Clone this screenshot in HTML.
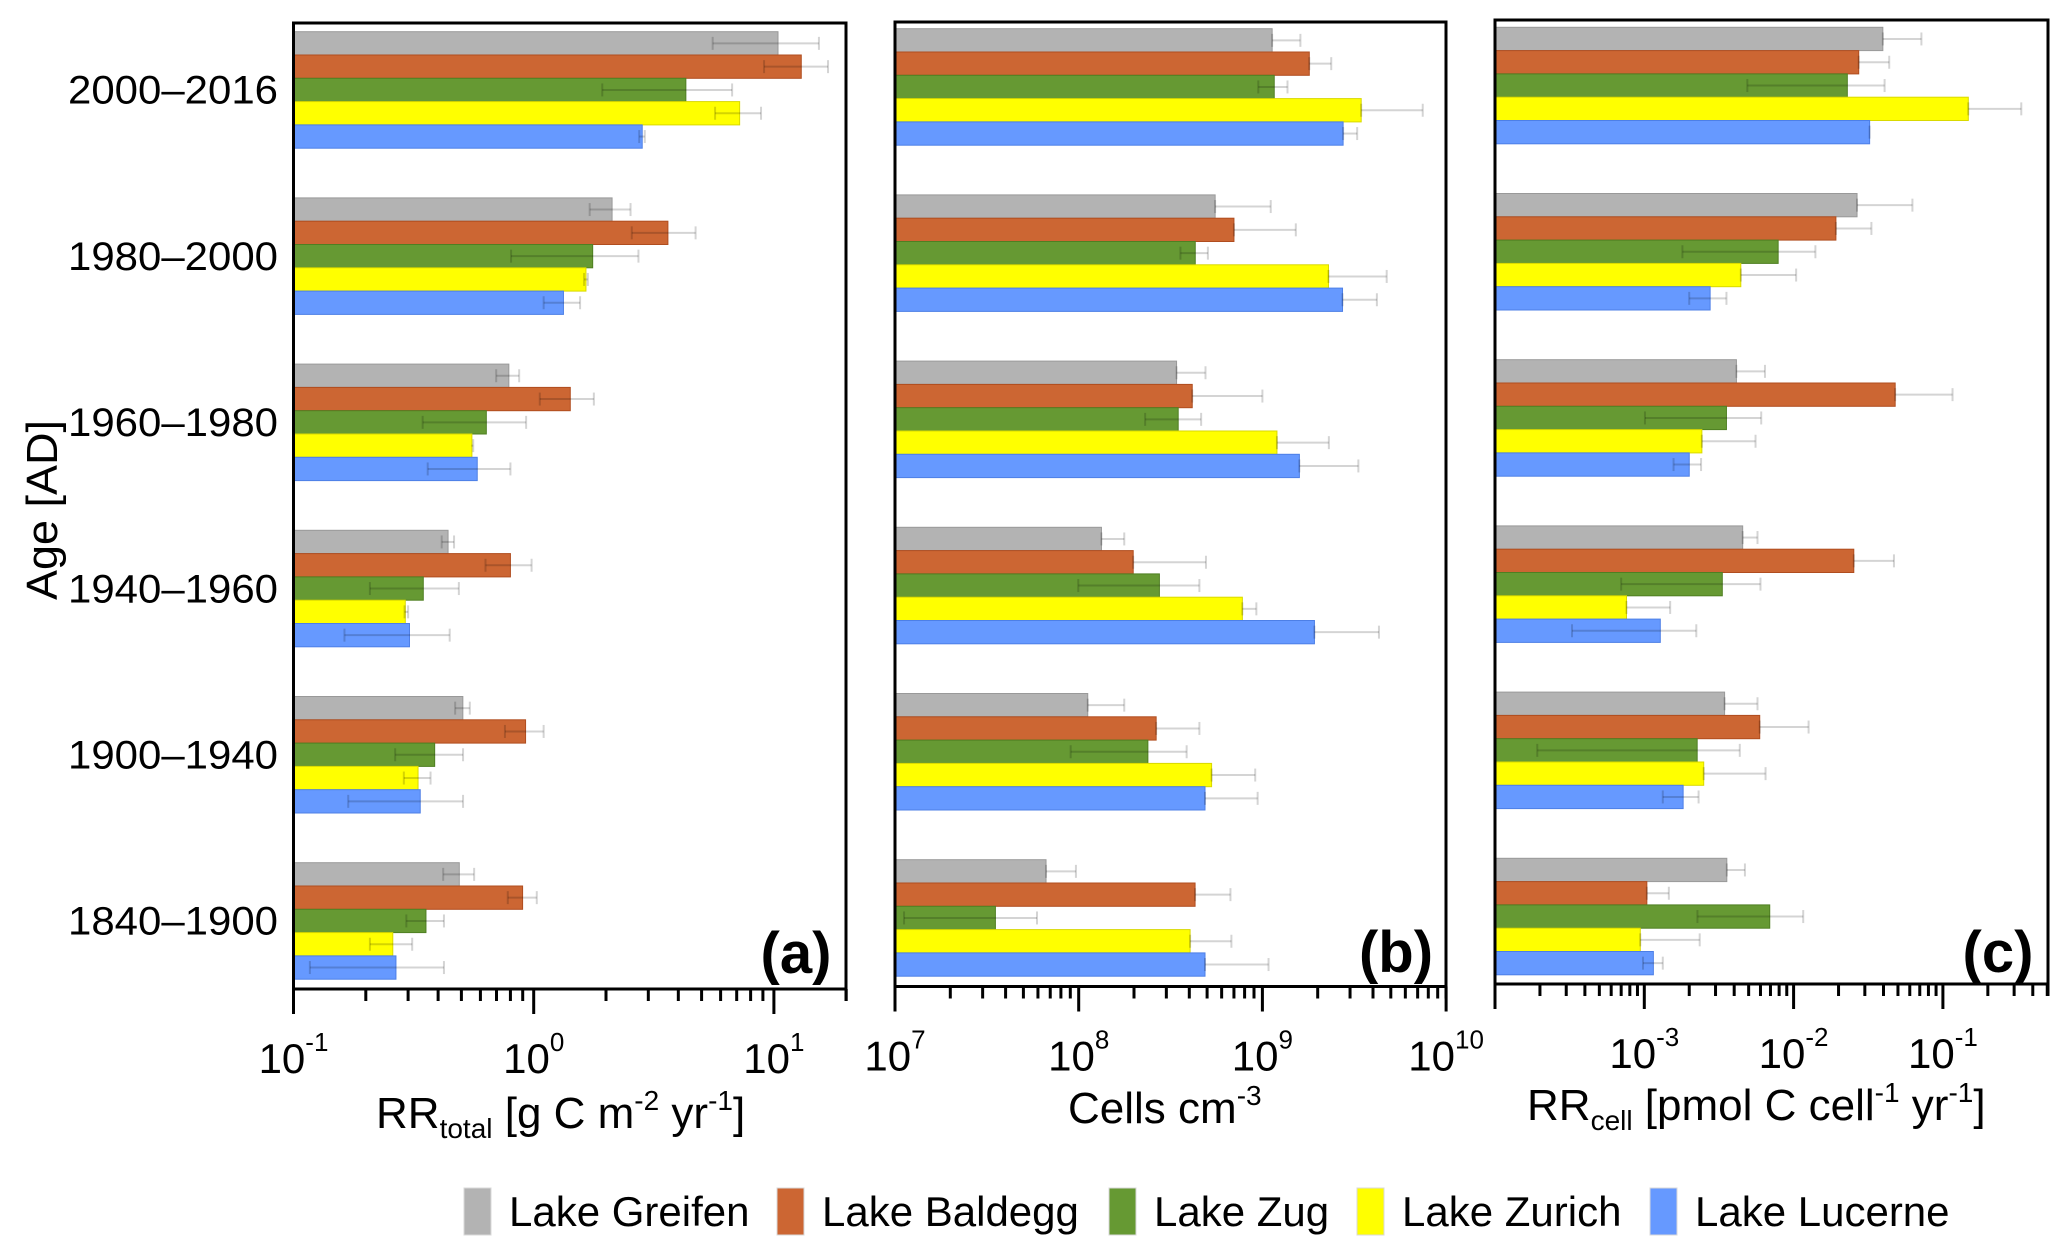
<!DOCTYPE html>
<html><head><meta charset="utf-8"><style>
html,body{margin:0;padding:0;background:#fff;}
svg{display:block;font-family:"Liberation Sans",Arial,sans-serif;}
</style></head><body>
<svg id="chart" width="2067" height="1256" viewBox="0 0 2067 1256" xmlns="http://www.w3.org/2000/svg">
<text transform="translate(57,510) rotate(-90)" text-anchor="middle" font-size="44" textLength="180" lengthAdjust="spacingAndGlyphs">Age [AD]</text>
<g id="layer"></g>
</svg>
<script>
const categories = ["2000–2016","1980–2000","1960–1980","1940–1960","1900–1940","1840–1900"];
const lakes = ["Lake Greifen","Lake Baldegg","Lake Zug","Lake Zurich","Lake Lucerne"];
const colors = ["#b3b3b3","#cc6633","#669933","#ffff00","#6699ff"];
const strokes = ["#999999","#b04d1f","#4f7f22","#d9d900","#4d7fe6"];

// Panel (a) RR_total [g C m-2 yr-1]
const aGreifen = [10.4,2.12,0.788,0.44,0.507,0.49];
const aGreifenLo = [5.56,1.71,0.698,0.414,0.471,0.42];
const aGreifenHi = [15.4,2.53,0.87,0.466,0.542,0.565];
const aBaldegg = [13.0,3.62,1.42,0.80,0.925,0.899];
const aBaldeggLo = [9.1,2.56,1.06,0.63,0.759,0.78];
const aBaldeggHi = [16.8,4.72,1.78,0.98,1.10,1.03];
const aZug = [4.3,1.76,0.635,0.347,0.387,0.356];
const aZugLo = [1.93,0.805,0.345,0.208,0.265,0.295];
const aZugHi = [6.7,2.73,0.93,0.488,0.508,0.423];
const aZurich = [7.2,1.65,0.553,0.292,0.33,0.259];
const aZurichLo = [5.69,1.62,0.55,0.29,0.288,0.208];
const aZurichHi = [8.84,1.68,0.56,0.30,0.372,0.312];
const aLucerne = [2.83,1.33,0.582,0.304,0.337,0.267];
const aLucerneLo = [2.75,1.10,0.362,0.163,0.169,0.117];
const aLucerneHi = [2.9,1.56,0.80,0.447,0.508,0.423];

// Panel (b) Cells cm-3 (units of 1e8)
const bGreifen = [11.3,5.53,3.41,1.33,1.12,0.664];
const bGreifenLo = [11.3,5.53,3.41,1.33,1.12,0.664];
const bGreifenHi = [16.1,11.1,4.9,1.77,1.77,0.966];
const bBaldegg = [18.0,7.0,4.15,1.98,2.64,4.3];
const bBaldeggLo = [18.0,7.0,4.15,1.98,2.64,4.3];
const bBaldeggHi = [23.7,15.2,10.0,4.93,4.54,6.7];
const bZug = [11.6,4.31,3.48,2.75,2.38,0.352];
const bZugLo = [9.5,3.58,2.3,0.995,0.904,0.112];
const bZugHi = [13.7,5.05,4.64,4.54,3.87,0.593];
const bZurich = [34.5,22.9,12.0,7.78,5.29,4.04];
const bZurichLo = [34.5,22.9,12.0,7.78,5.29,4.04];
const bZurichHi = [74.6,47.5,23,9.27,9.14,6.78];
const bLucerne = [27.5,27.3,15.9,19.2,4.87,4.87];
const bLucerneLo = [27.5,27.3,15.9,19.2,4.87,4.87];
const bLucerneHi = [32.8,42,33.3,43.1,9.42,10.8];

// Panel (c) RR_cell [pmol C cell-1 yr-1]
const cGreifen = [0.0396,0.0266,0.00414,0.00456,0.00345,0.00357];
const cGreifenLo = [0.0396,0.0266,0.00414,0.00456,0.00345,0.00357];
const cGreifenHi = [0.0718,0.0625,0.00643,0.00573,0.00573,0.00472];
const cBaldegg = [0.0273,0.0192,0.0479,0.0253,0.00593,0.00104];
const cBaldeggLo = [0.0273,0.0192,0.0479,0.0253,0.00593,0.00104];
const cBaldeggHi = [0.0437,0.0332,0.116,0.047,0.0126,0.00146];
const cZug = [0.0229,0.00788,0.00355,0.00333,0.00226,0.00692];
const cZugLo = [0.0049,0.0018,0.00101,0.0007,0.000192,0.00227];
const cZugHi = [0.0407,0.014,0.00607,0.006,0.00436,0.0116];
const cZurich = [0.148,0.00443,0.00243,0.00076,0.0025,0.00094];
const cZurichLo = [0.148,0.00443,0.00243,0.00076,0.0025,0.00094];
const cZurichHi = [0.335,0.0104,0.00556,0.00149,0.00649,0.00235];
const cLucerne = [0.0323,0.00276,0.002,0.00128,0.00182,0.00115];
const cLucerneLo = [0.0323,0.002,0.00157,0.000328,0.00133,0.00098];
const cLucerneHi = [0.0323,0.00355,0.0024,0.00223,0.00231,0.00133];

const aTickExp = [-1,0,1];
const bTickExp = [7,8,9,10];
const cTickExp = [-3,-2,-1];

const NS = "http://www.w3.org/2000/svg";
const layer = document.getElementById('layer');
function mk(tag, attrs, parent){
  const e = document.createElementNS(NS, tag);
  for (const k in attrs) e.setAttribute(k, attrs[k]);
  (parent||layer).appendChild(e);
  return e;
}

const panels = [
  {id:'a', x0:293.5, x1:846, top:23, axisY:989, groupTop:31.7, decadeMin:-1, decadePx:240.2, scale:1,
   vals:[aGreifen,aBaldegg,aZug,aZurich,aLucerne], lo:[aGreifenLo,aBaldeggLo,aZugLo,aZurichLo,aLucerneLo], hi:[aGreifenHi,aBaldeggHi,aZugHi,aZurichHi,aLucerneHi],
   ticks:aTickExp, label:'(a)', labelX:796, labelY:973},
  {id:'b', x0:895, x1:1446, top:22, axisY:986.5, groupTop:28.7, decadeMin:7, decadePx:183.7, scale:1e8,
   vals:[bGreifen,bBaldegg,bZug,bZurich,bLucerne], lo:[bGreifenLo,bBaldeggLo,bZugLo,bZurichLo,bLucerneLo], hi:[bGreifenHi,bBaldeggHi,bZugHi,bZurichHi,bLucerneHi],
   ticks:bTickExp, label:'(b)', labelX:1396, labelY:972},
  {id:'c', x0:1495, x1:2048, top:20, axisY:984, groupTop:27.3, decadeMin:-4, decadePx:149.3, scale:1,
   vals:[cGreifen,cBaldegg,cZug,cZurich,cLucerne], lo:[cGreifenLo,cBaldeggLo,cZugLo,cZurichLo,cLucerneLo], hi:[cGreifenHi,cBaldeggHi,cZugHi,cZurichHi,cLucerneHi],
   ticks:cTickExp, label:'(c)', labelX:1998, labelY:972}
];
const groupStep = 166.2, barH = 23.3;

panels.forEach(p => {
  const xs = v => p.x0 + p.decadePx * (Math.log10(v * p.scale) - p.decadeMin);
  const g = mk('g', {});
  
  
  categories.forEach((cat, ci) => {
    lakes.forEach((lake, li) => {
      const v = p.vals[li][ci];
      const y = p.groupTop + ci * groupStep + li * barH;
      const r = mk('rect', {x:p.x0, y:y, width:Math.max(0, xs(v) - p.x0), height:barH, fill:colors[li], stroke:strokes[li], 'stroke-width':1}, g);
      
      
    });
  });
  categories.forEach((cat, ci) => {
    lakes.forEach((lake, li) => {
      const yc = p.groupTop + ci * groupStep + li * barH + barH / 2;
      const xl = xs(p.lo[li][ci]), xh = xs(p.hi[li][ci]);
      const eb = mk('g', {stroke:'rgba(0,0,0,0.17)', 'stroke-width':2}, g);
      
      
      mk('line', {x1:xl, x2:xh, y1:yc, y2:yc}, eb);
      mk('line', {x1:xh, x2:xh, y1:yc-6.5, y2:yc+6.5}, eb);
      if (xh - xl > 3) mk('line', {x1:xl, x2:xl, y1:yc-6.5, y2:yc+6.5}, eb);
    });
  });
  const fr = mk('rect', {x:p.x0, y:p.top, width:p.x1 - p.x0, height:p.axisY - p.top, fill:'none', stroke:'#000', 'stroke-width':3}, g);
  
  
  const tg = mk('g', {stroke:'#000', 'stroke-width':3}, g);
  
  
  for (let d = p.decadeMin; d < p.decadeMin + 4; d++) {
    for (let m = 1; m <= 9; m++) {
      const val = m * Math.pow(10, d);
      const x = p.x0 + p.decadePx * (Math.log10(val) - p.decadeMin);
      if (x > p.x1 + 1) break;
      mk('line', {x1:x, x2:x, y1:p.axisY, y2:p.axisY + (m === 1 ? 25 : 12)}, tg);
    }
  }
  mk('line', {x1:p.x1, x2:p.x1, y1:p.axisY, y2:p.axisY + 12}, tg);
  p.ticks.forEach(e => {
    const x = p.x0 + p.decadePx * (e - p.decadeMin);
    const t = mk('text', {x:x, y:p.axisY + 84, 'text-anchor':'middle', 'font-size':42}, g);
    
    
    const b = mk('tspan', {}, t); b.textContent = '10';
    const s = mk('tspan', {'font-size':26, dy:-22}, t); s.textContent = String(e);
  });
  const pl = mk('text', {x:p.labelX, y:p.labelY, 'text-anchor':'middle', 'font-size':58, 'font-weight':'bold'}, g);
  
  
  pl.textContent = p.label;
});

categories.forEach((cat, ci) => {
  const t = mk('text', {x:278, y:31.7 + ci * groupStep + 72, 'text-anchor':'end', 'font-size':40, textLength:210, lengthAdjust:'spacingAndGlyphs'});
  
  
  t.textContent = cat;
});

function title(name, x, y, parts){
  const t = mk('text', {x:x, y:y, 'font-size':44});
  
  
  parts.forEach(pt => {
    const s = mk('tspan', pt.a || {}, t);
    s.textContent = pt.s;
  });
  return t;
}
title('x-axis-title-a', 376, 1128, [
  {s:'RR'}, {s:'total', a:{'font-size':28, dy:10}}, {s:' [g C m', a:{dy:-10}},
  {s:'-2', a:{'font-size':28, dy:-18}}, {s:' yr', a:{dy:18}}, {s:'-1', a:{'font-size':28, dy:-18}}, {s:']', a:{dy:18}}
]);
title('x-axis-title-b', 1068, 1123, [
  {s:'Cells cm'}, {s:'-3', a:{'font-size':28, dy:-18}}
]);
title('x-axis-title-c', 1527, 1120, [
  {s:'RR'}, {s:'cell', a:{'font-size':28, dy:10}}, {s:' [pmol C cell', a:{dy:-10}},
  {s:'-1', a:{'font-size':28, dy:-18}}, {s:' yr', a:{dy:18}}, {s:'-1', a:{'font-size':28, dy:-18}}, {s:']', a:{dy:18}}
]);

const legendX = [464, 777, 1109, 1357, 1650];
const lg = mk('g', {});


lakes.forEach((lake, li) => {
  const e = mk('g', {}, lg);
  
  
  mk('rect', {x:legendX[li], y:1188, width:27, height:47, fill:colors[li], stroke:'#d8d8d8', 'stroke-width':1}, e);
  const t = mk('text', {x:legendX[li] + 45, y:1226, 'font-size':42}, e);
  t.textContent = lake;
});
</script>
</body></html>
